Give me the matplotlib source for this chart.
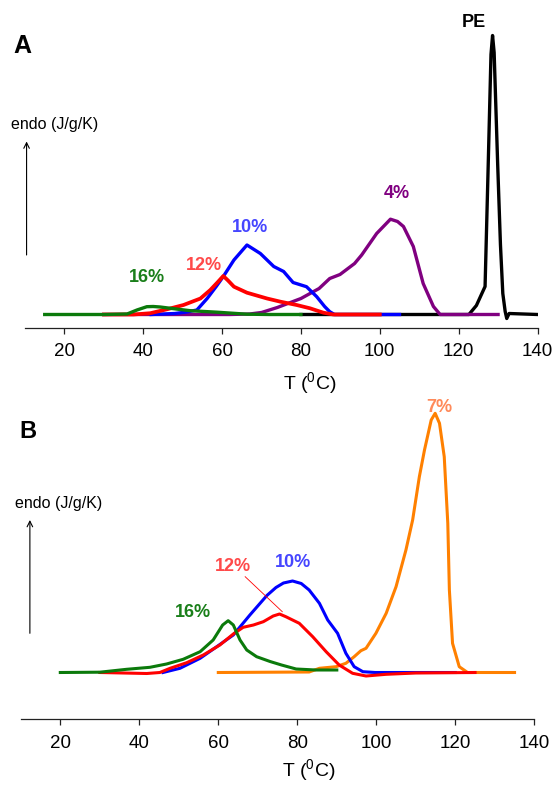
import matplotlib
matplotlib.use("Agg")
import matplotlib.pyplot as plt

plt.rcParams['font.family'] = ['Liberation Sans', 'DejaVu Sans']
plt.rcParams['mathtext.fontset'] = 'custom'
plt.rcParams['mathtext.rm'] = 'Liberation Sans'

# ---- panel A : heat flow curves (arbitrary units above baseline) ----
pe_T = [80, 122.6, 124.5, 126.7, 127.5, 128.2, 128.6, 129.0, 129.9, 130.6,
        131.2, 131.8, 132.2, 132.8, 140]
pe_y = [0, 0, 9, 28, 150, 260, 279, 262, 150, 70, 21, 3, -4, 1, 0]

p4_T = [30, 62, 67, 70, 74, 80, 84.6, 87.3, 89.9, 93.6, 95.4, 99.2, 102.7,
        104.5, 106, 108.5, 111, 113.6, 115.3, 120, 130]
p4_y = [0, 0, 0.5, 2, 7, 16, 26, 36, 40, 51, 59.5, 81, 95.3, 93, 88, 68, 31,
        8, 0, 0, 0]

p10_T = [42, 48, 51, 53.6, 56.2, 58.5, 60.3, 63, 66.3, 69.7, 73.1, 75.6, 78,
         81.4, 84, 86, 87.3, 88.5, 95, 105]
p10_y = [0, 1, 2.5, 4.5, 16, 28, 38, 54.5, 69.5, 61, 48, 43, 32, 27.8, 17.8,
         8, 2.8, 0, 0, 0]

p12_T = [30, 37.5, 41.8, 46, 50.2, 54.5, 57, 58.8, 60.3, 61.5, 63, 66.3, 71.4,
         74.8, 78.9, 82.3, 85.7, 88.2, 95, 100]
p12_y = [0, 0, 1.3, 5.2, 9.5, 16, 24.5, 32, 38.5, 34, 27.8, 21.8, 16, 12.8,
         9.5, 6.2, 1.8, 0, 0, 0]

p16_T = [15, 30, 35.9, 38.4, 40.9, 42.5, 44.3, 47.7, 51.9, 58.7, 66.3, 72, 80]
p16_y = [0, 0, 0.5, 4.5, 7.8, 8, 7.5, 5.8, 3.8, 2.3, 0.3, 0, 0]

# ---- panel B ----
b7_T = [60, 83, 85.6, 89.8, 92.3, 94.4, 96.1, 97.4, 99.9, 102.5, 105, 107.5,
        109.2, 110.9, 112.2, 113.9, 114.9, 116, 117.2, 118.1, 118.5, 119.3,
        121, 123.1, 135]
b7_y = [0, 0.5, 4.2, 5.8, 9.2, 15.8, 21.8, 24.2, 39.2, 59.2, 85.8, 122.5,
        152.5, 195.8, 222.5, 252.5, 259.2, 249.2, 215.8, 149.2, 82.5, 29.2,
        5.8, 0, 0]

b10_T = [46, 50.3, 55.4, 59.6, 63.8, 68, 72.3, 74.6, 76.5, 78.8, 81, 83, 85.6,
         87.7, 90.2, 92.3, 94.4, 96.6, 99.7, 110, 120]
b10_y = [0, 4.2, 14.2, 25.8, 37.5, 57.5, 77, 85, 89.5, 91.5, 89, 82.5, 69.2,
         52.5, 39.2, 19.2, 5.8, 0.8, 0, 0, 0]

b12_T = [30, 41.9, 45.2, 47.8, 52, 56.2, 60.4, 63.8, 66.3, 68.9, 71.4, 73.9,
         75.5, 77.1, 80.5, 83.9, 87.3, 90.6, 94, 97.4, 102.5, 110, 125]
b12_y = [0, -1, 0, 4.2, 9.8, 17.5, 27.5, 38.5, 45.2, 47.5, 50.8, 56.5, 58.5,
         55.8, 49.2, 35.8, 20.8, 7.5, -0.8, -3.5, -1.8, -0.5, 0]

b16_T = [20, 30, 36.8, 42.7, 46.9, 51.1, 55.4, 58.7, 61.1, 62.5, 63.8, 65.5,
         67.2, 69.7, 73.1, 76, 79.7, 84.7, 90]
b16_y = [0, 0.3, 3.2, 5.2, 8.5, 13.2, 20.8, 32.5, 47.5, 51.8, 47.5, 32.5,
         22.5, 15.8, 11, 7.5, 3.5, 2.5, 2.5]

xticks = [20, 40, 60, 80, 100, 120, 140]

BLUE, RED, GREEN = '#0000ff', '#ff0000', '#0b7a0b'
PURPLE, ORANGE = '#800080', '#ff8000'

fig = plt.figure(figsize=(5.56, 7.85), dpi=100)
axA = fig.add_axes([25 / 556, 1 - 327.7 / 785, 512.5 / 556, 297.7 / 785])
axB = fig.add_axes([20.8 / 556, 1 - 719.3 / 785, 513.5 / 556, 319.3 / 785])


def style_axis(ax, ylim):
    ax.set_xlim(10, 140)
    ax.set_ylim(*ylim)
    for side in ('left', 'top', 'right'):
        ax.spines[side].set_visible(False)
    ax.spines['bottom'].set_linewidth(0.9)
    ax.spines['bottom'].set_color('#222222')
    ax.set_yticks([])
    ax.set_xticks(xticks)
    ax.tick_params(axis='x', direction='out', length=4, width=0.9,
                   color='#222222', labelsize=13.5, pad=7)


style_axis(axA, (-13.2, 284.5))
style_axis(axB, (-46.8, 272.5))

# panel A
lw = 2.4
axA.plot(pe_T, pe_y, color='black', lw=lw)
axA.plot(p4_T, p4_y, color=PURPLE, lw=lw)
axA.plot(p10_T, p10_y, color=BLUE, lw=lw)
axA.plot(p12_T, p12_y, color=RED, lw=2.7)
axA.plot(p16_T, p16_y, color=GREEN, lw=lw)

lab = dict(fontsize=13, fontweight='bold', ha='center', va='center')
axA.text(123.8, 291.6, 'PE', color='black', clip_on=False, **lab)
axA.text(104.3, 121.3, '4%', color=PURPLE, **lab)
axA.text(67.1, 86.8, '10%', color='#4646ff', **lab)
axA.text(55.5, 49.3, '12%', color='#ff4a4a', **lab)
axA.text(41.0, 37.0, '16%', color='#1a7f1a', **lab)

axA.annotate('', xy=(10.4, 173), xytext=(10.4, 59.5), annotation_clip=False,
             arrowprops=dict(arrowstyle='->', lw=0.8, color='black',
                             shrinkA=0, shrinkB=0))
axA.text(17.6, 189.5, 'endo (J/g/K)', fontsize=11.5, ha='center',
         va='center', clip_on=False)

# panel B
lw = 2.2
axB.plot(b7_T, b7_y, color=ORANGE, lw=lw)
axB.plot(b10_T, b10_y, color=BLUE, lw=lw)
axB.plot(b12_T, b12_y, color=RED, lw=lw)
axB.plot(b16_T, b16_y, color=GREEN, lw=lw)

axB.text(116.0, 265.0, '7%', color='#ff8a5a', clip_on=False, **lab)
axB.text(78.9, 110.2, '10%', color='#4646ff', **lab)
axB.text(63.7, 105.8, '12%', color='#ff4a4a', **lab)
axB.text(53.7, 60.3, '16%', color='#1a7f1a', **lab)
axB.plot([66.8, 76.2], [95.8, 60.8], color=RED, lw=0.6)

axB.annotate('', xy=(12.3, 152.5), xytext=(12.3, 39.2), annotation_clip=False,
             arrowprops=dict(arrowstyle='->', lw=0.8, color='black',
                             shrinkA=0, shrinkB=0))
axB.text(19.5, 169, 'endo (J/g/K)', fontsize=11.5, ha='center',
         va='center', clip_on=False)

# x labels, panel letters
for ax, xc, yc in ((axA, 310, 383), (axB, 308.5, 770)):
    ax.set_xlabel(r'T ($\mathregular{^0}$C)', fontsize=14)
    ax.xaxis.set_label_coords(xc / 556, 1 - yc / 785, transform=fig.transFigure)
    ax.xaxis.label.set_va('center')

fig.text(22 / 556, 1 - 46 / 785, 'A', fontsize=18, fontweight='bold',
         ha='center', va='center')
fig.text(28.3 / 556, 1 - 432 / 785, 'B', fontsize=17, fontweight='bold',
         ha='center', va='center')

fig.savefig('out.png', dpi=100)
